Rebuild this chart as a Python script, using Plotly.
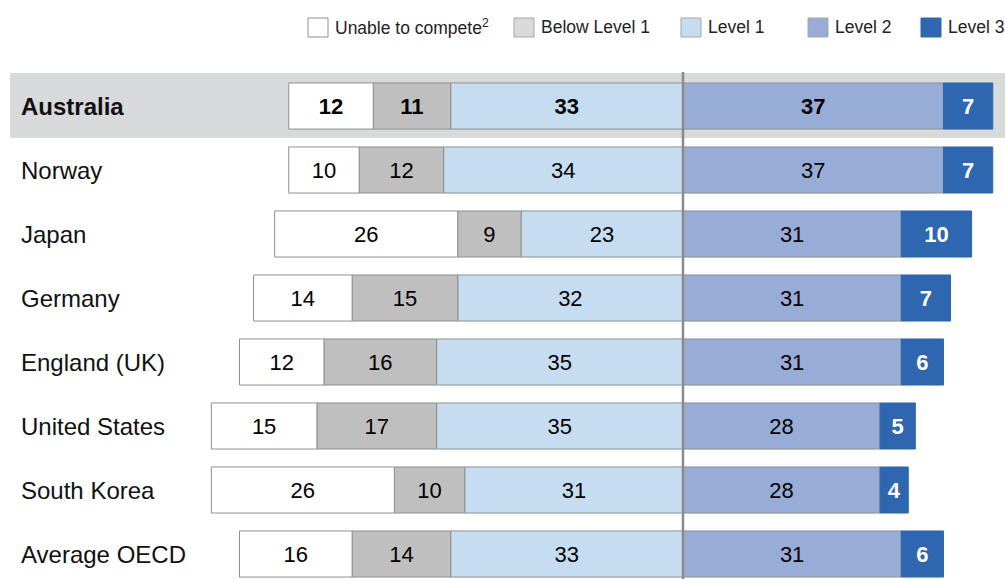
import numpy as np
import plotly.graph_objects as go

countries = ["Australia", "Norway", "Japan", "Germany", "England (UK)",
             "United States", "South Korea", "Average OECD"]
unable = [12, 10, 26, 14, 12, 15, 26, 16]
below_l1 = [11, 12, 9, 15, 16, 17, 10, 14]
level1 = [33, 34, 23, 32, 35, 35, 31, 33]
level2 = [37, 37, 31, 31, 31, 28, 28, 31]
level3 = [7, 7, 10, 7, 6, 5, 4, 6]

legend_labels = ["Unable to compete<sup>2</sup>", "Below Level 1", "Level 1", "Level 2", "Level 3"]

C_UNABLE = "#ffffff"
C_BELOW = "#bfbfbf"
C_L1 = "#c6ddf1"
C_L2 = "#97acd6"
C_L3 = "#2e66b0"
EDGE = "#8f8f8f"
FONT = "Liberation Sans, Arial, sans-serif"

W, H = 1005, 579
CENTER_PX = 683
PX_PER_UNIT = 7.04
ROW0_PX, ROW_PITCH = 106, 64

y = np.arange(len(countries))
u = np.array(unable); b = np.array(below_l1); l1 = np.array(level1)
l2 = np.array(level2); l3 = np.array(level3)


def labels(vals, bold_first=True):
    return [f"<b>{v}</b>" if (i == 0 and bold_first) else str(v) for i, v in enumerate(vals)]


fig = go.Figure()
segments = [
    ("Level 1", l1, -l1, C_L1, "#000000", labels(level1), EDGE),
    ("Below Level 1", b, -(l1 + b), C_BELOW, "#000000", labels(below_l1), EDGE),
    ("Unable to compete", u, -(l1 + b + u), C_UNABLE, "#000000", labels(unable), EDGE),
    ("Level 2", l2, np.zeros_like(l2), C_L2, "#000000", labels(level2), EDGE),
    ("Level 3", l3, l2, C_L3, "#ffffff", [f"<b>{v}</b>" for v in level3], C_L3),
]
for name, vals, base, color, tcol, txt, edge in segments:
    fig.add_trace(go.Bar(
        y=y, x=vals, base=base, orientation="h", name=name,
        marker=dict(color=color, line=dict(color=edge, width=1)),
        width=0.72, text=txt, textposition="inside", insidetextanchor="middle",
        textfont=dict(family=FONT, size=22, color=tcol),
        showlegend=False, hoverinfo="skip",
    ))

x_lo = -CENTER_PX / PX_PER_UNIT
x_hi = (W - CENTER_PX) / PX_PER_UNIT
y_top = -ROW0_PX / ROW_PITCH
y_bot = (H - ROW0_PX) / ROW_PITCH

shapes = [
    # highlighted row band
    dict(type="rect", xref="paper", yref="y", x0=10 / W, x1=1, y0=-0.515, y1=0.5,
         fillcolor="#d8d9db", line=dict(width=0), layer="below"),
    # centre divider
    dict(type="line", xref="x", yref="paper", x0=0, x1=0, y0=0, y1=1 - 72 / H,
         line=dict(color="#8a8a8a", width=2.5), layer="above"),
]

annotations = []
for i, c in enumerate(countries):
    annotations.append(dict(
        x=19 / W, xref="paper", y=i, yref="y", xanchor="left", yanchor="middle",
        text=f"<b>{c}</b>" if i == 0 else c, showarrow=False,
        font=dict(family=FONT, size=24, color="#111111")))

# legend row
swatch_x = [308, 514, 681, 808, 921]
swatch_fill = [C_UNABLE, "#d9d9d9", C_L1, C_L2, C_L3]
swatch_edge = ["#8f8f8f", "#a6a6a6", "#a6a6a6", "#a6a6a6", C_L3]
sy0, sy1 = 1 - 37 / H, 1 - 18 / H
for sx, fill, edge, lab in zip(swatch_x, swatch_fill, swatch_edge, legend_labels):
    shapes.append(dict(type="rect", xref="paper", yref="paper",
                       x0=sx / W, x1=(sx + 20) / W, y0=sy0, y1=sy1,
                       fillcolor=fill, line=dict(color=edge, width=1)))
    annotations.append(dict(
        x=(sx + 25) / W, xref="paper", y=(sy0 + sy1) / 2, yref="paper",
        xanchor="left", yanchor="middle", text=lab, showarrow=False,
        font=dict(family=FONT, size=17.5, color="#222222")))

fig.update_layout(
    width=W, height=H, margin=dict(l=0, r=0, t=0, b=0),
    paper_bgcolor="#ffffff", plot_bgcolor="#ffffff",
    barmode="overlay", showlegend=False,
    xaxis=dict(range=[x_lo, x_hi], visible=False, fixedrange=True),
    yaxis=dict(range=[y_bot, y_top], visible=False, fixedrange=True),
    uniformtext=dict(minsize=22, mode="show"),
    shapes=shapes, annotations=annotations,
)

fig.write_html("out.html")
